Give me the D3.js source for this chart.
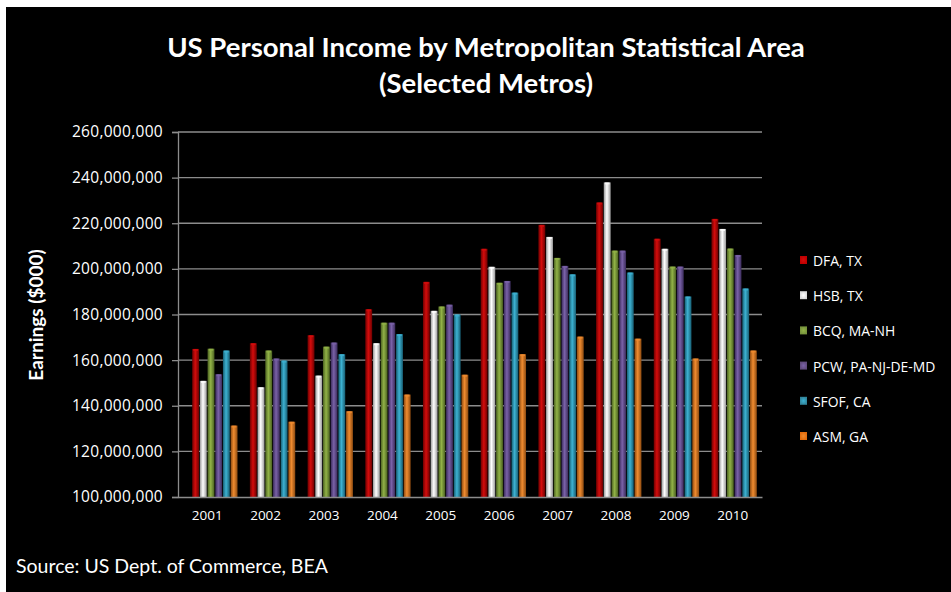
<!DOCTYPE html>
<html>
<head>
<meta charset="utf-8">
<script src="https://cdn.jsdelivr.net/npm/d3@7"></script>
<style>
  html, body { margin: 0; padding: 0; background: #fff; }
  svg { display: block; }
</style>
</head>
<body>
<svg id="chart" width="951" height="592"></svg>
<script>
// Personal income (earnings, $000) for selected metro areas, 2001-2010
const years = ["2001","2002","2003","2004","2005","2006","2007","2008","2009","2010"];
const metros = ["DFA, TX","HSB, TX","BCQ, MA-NH","PCW, PA-NJ-DE-MD","SFOF, CA","ASM, GA"];
const dfa  = [164.9,167.4,170.9,182.3,194.3,208.8,219.3,229.1,213.2,221.9];
const hsb  = [150.9,148.1,153.2,167.4,181.6,200.9,214.0,237.9,208.8,217.5];
const bcq  = [165.0,164.2,165.9,176.4,183.5,193.9,204.8,208.0,201.0,208.9];
const pcw  = [153.8,160.7,167.7,176.4,184.3,194.7,201.3,208.0,201.0,206.1];
const sfof = [164.2,159.8,162.6,171.4,180.0,189.6,197.6,198.4,187.9,191.4];
const asm  = [131.3,133.0,137.6,144.9,153.6,162.6,170.3,169.4,160.7,164.2];
const yTicks = [100,120,140,160,180,200,220,240,260];

const seriesValues = [dfa, hsb, bcq, pcw, sfof, asm];
// millions -> thousands of dollars
const series = metros.map((m, i) => ({ name: m, values: seriesValues[i].map(v => v * 1e6) }));

const palette = [
  { edge: "#6e0000", mid: "#d40c0c", leg: "#c00000" },
  { edge: "#9a9a9a", mid: "#ffffff", leg: "#d9d9d9" },
  { edge: "#4a6020", mid: "#92b347", leg: "#77933c" },
  { edge: "#3a2b5a", mid: "#7a62a8", leg: "#604a7b" },
  { edge: "#175d72", mid: "#3db2d2", leg: "#31859c" },
  { edge: "#8c4a10", mid: "#f08c30", leg: "#e46c0a" }
];

const svg = d3.select("#chart");
const W = 951, H = 592;

// background frame
svg.append("rect").attr("width", W).attr("height", H).attr("fill", "#fff");
svg.append("rect").attr("x", 6).attr("y", 7).attr("width", W - 6).attr("height", H - 7).attr("fill", "#000");

// cylinder-like gradients
const defs = svg.append("defs");
palette.forEach((p, i) => {
  const g = defs.append("linearGradient").attr("id", "bar" + i)
    .attr("x1", "0").attr("x2", "1").attr("y1", "0").attr("y2", "0");
  g.append("stop").attr("offset", "0%").attr("stop-color", p.edge);
  g.append("stop").attr("offset", "45%").attr("stop-color", p.mid);
  g.append("stop").attr("offset", "100%").attr("stop-color", p.edge);
  const lg = defs.append("radialGradient").attr("id", "leg" + i);
  lg.append("stop").attr("offset", "0%").attr("stop-color", p.mid);
  lg.append("stop").attr("offset", "100%").attr("stop-color", p.leg);
});

const plot = { left: 178, right: 762, top: 132, bottom: 497 };

// category axis spans the plot; bar groups sit slightly to the right (3-D depth offset)
const xCat = d3.scaleBand().domain(years).range([plot.left, plot.right]);
const x0 = d3.scaleBand().domain(years).range([plot.left + 8, plot.right + 1]).paddingInner(0.2).paddingOuter(0.1);
const x1 = d3.scaleBand().domain(d3.range(metros.length)).range([0, x0.bandwidth()]);
const y = d3.scaleLinear().domain([100e6, 260e6]).range([plot.bottom, plot.top]);

// gridlines
svg.append("g").selectAll("line").data(yTicks.slice(1)).join("line")
  .attr("x1", plot.left).attr("x2", plot.right)
  .attr("y1", d => y(d * 1e6)).attr("y2", d => y(d * 1e6))
  .attr("stroke", "#8c8c8c").attr("stroke-width", 1.3);

// y axis
const yAxis = d3.axisLeft(y).tickValues(yTicks.map(v => v * 1e6))
  .tickFormat(d3.format(",")).tickSize(6).tickPadding(9);
const gy = svg.append("g").attr("transform", `translate(${plot.left},0)`).call(yAxis);
gy.select(".domain").attr("stroke", "#8c8c8c").attr("stroke-width", 1.3);
gy.selectAll(".tick line").attr("stroke", "#8c8c8c").attr("stroke-width", 1.3);
gy.selectAll("text").attr("fill", "#fff").attr("font-family", "'Open Sans', sans-serif")
  .attr("font-size", 15.5).attr("letter-spacing", 0.3);

// bars
const groups = svg.append("g").selectAll("g").data(years).join("g")
  .attr("transform", d => `translate(${x0(d)},0)`);
groups.selectAll("rect.bar").data((yr, yi) => series.map((s, si) => ({ si, v: s.values[yi] }))).join("rect")
  .attr("class", "bar")
  .attr("x", d => x1(d.si) + 0.4)
  .attr("width", x1.bandwidth() - 0.8)
  .attr("y", d => y(d.v))
  .attr("height", d => y(100e6) - y(d.v))
  .attr("fill", d => `url(#bar${d.si})`);
// top highlight caps
groups.selectAll("rect.cap").data((yr, yi) => series.map((s, si) => ({ si, v: s.values[yi] }))).join("rect")
  .attr("class", "cap")
  .attr("x", d => x1(d.si) + 1.5)
  .attr("width", x1.bandwidth() - 3)
  .attr("y", d => y(d.v))
  .attr("height", 2)
  .attr("fill", d => palette[d.si].mid)
  .attr("opacity", 0.8);

// x axis
const xAxis = d3.axisBottom(xCat).tickSize(0).tickPadding(13);
const gx = svg.append("g").attr("transform", `translate(0,${plot.bottom})`).call(xAxis);
gx.select(".domain").attr("stroke", "#8c8c8c").attr("stroke-width", 1.5);
gx.selectAll("text").attr("fill", "#fff").attr("font-family", "'Open Sans', sans-serif").attr("font-size", 13.5);

// title
const title = svg.append("text").attr("x", 486).attr("text-anchor", "middle")
  .attr("fill", "#fff").attr("font-family", "Lato, sans-serif").attr("font-weight", "bold").attr("font-size", 27.5);
title.append("tspan").attr("x", 486).attr("y", 57).text("US Personal Income by Metropolitan Statistical Area");
title.append("tspan").attr("x", 486).attr("y", 93).text("(Selected Metros)");

// y axis title
svg.append("text").attr("transform", "translate(43,315) rotate(-90)")
  .attr("text-anchor", "middle").attr("fill", "#fff")
  .attr("font-family", "Lato, sans-serif").attr("font-weight", "bold").attr("font-size", 19)
  .text("Earnings ($000)");

// legend
const legend = svg.append("g").selectAll("g").data(metros).join("g")
  .attr("transform", (d, i) => `translate(800,${261 + i * 35.2})`);
legend.append("rect").attr("x", 0).attr("y", -5).attr("width", 7).attr("height", 8)
  .attr("fill", (d, i) => `url(#leg${i})`);
legend.append("text").attr("x", 13).attr("y", 5).attr("fill", "#fff")
  .attr("font-family", "'Open Sans', sans-serif").attr("font-size", 13.9).text(d => d);

// source note
svg.append("text").attr("x", 16).attr("y", 573).attr("fill", "#fff")
  .attr("font-family", "Lato, sans-serif").attr("font-size", 19.5)
  .text("Source: US Dept. of Commerce, BEA");
</script>
</body>
</html>
